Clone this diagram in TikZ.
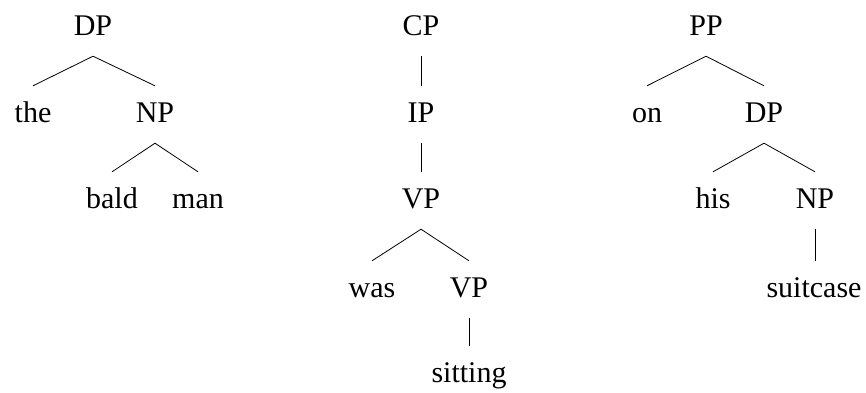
\documentclass[tikz,border=0pt]{standalone}
\usepackage{fontspec}
\setmainfont{Liberation Serif}
\begin{document}
\begin{tikzpicture}[x=1pt,y=-1pt,
  lab/.style={anchor=base,inner xsep=0pt,inner ysep=16pt,text height=20pt,text depth=5pt,font=\fontsize{30}{36}\selectfont},
  edge/.style={line width=0.8pt}]
\useasboundingbox (0,0) rectangle (866,392);
% Tree 1
\node[lab] (dp1) at (93,35) {DP};
\node[lab] (the) at (33,122) {the};
\node[lab] (np1) at (155,122) {NP};
\node[lab] (bald) at (112,208) {bald};
\node[lab] (man) at (198,208) {man};
\draw[edge] (the.north) -- (dp1.south) -- (np1.north);
\draw[edge] (bald.north) -- (np1.south) -- (man.north);
% Tree 2
\node[lab] (cp) at (421,35) {CP};
\node[lab] (ip) at (421,122) {IP};
\node[lab] (vp1) at (421,208) {VP};
\node[lab] (was) at (372,297) {was};
\node[lab] (vp2) at (469,297) {VP};
\node[lab] (sitting) at (469,382) {sitting};
\draw[edge] (cp.south) -- (ip.north);
\draw[edge] (ip.south) -- (vp1.north);
\draw[edge] (was.north) -- (vp1.south) -- (vp2.north);
\draw[edge] (vp2.south) -- (vp2.south |- sitting.north);
% Tree 3
\node[lab] (pp) at (706,35) {PP};
\node[lab] (on) at (647,122) {on};
\node[lab] (dp2) at (764,122) {DP};
\node[lab] (his) at (713,208) {his};
\node[lab] (np2) at (815,208) {NP};
\node[lab] (suitcase) at (814,297) {suitcase};
\draw[edge] (on.north) -- (pp.south) -- (dp2.north);
\draw[edge] (his.north) -- (dp2.south) -- (np2.north);
\draw[edge] (np2.south) -- (np2.south |- suitcase.north);
\end{tikzpicture}
\end{document}
